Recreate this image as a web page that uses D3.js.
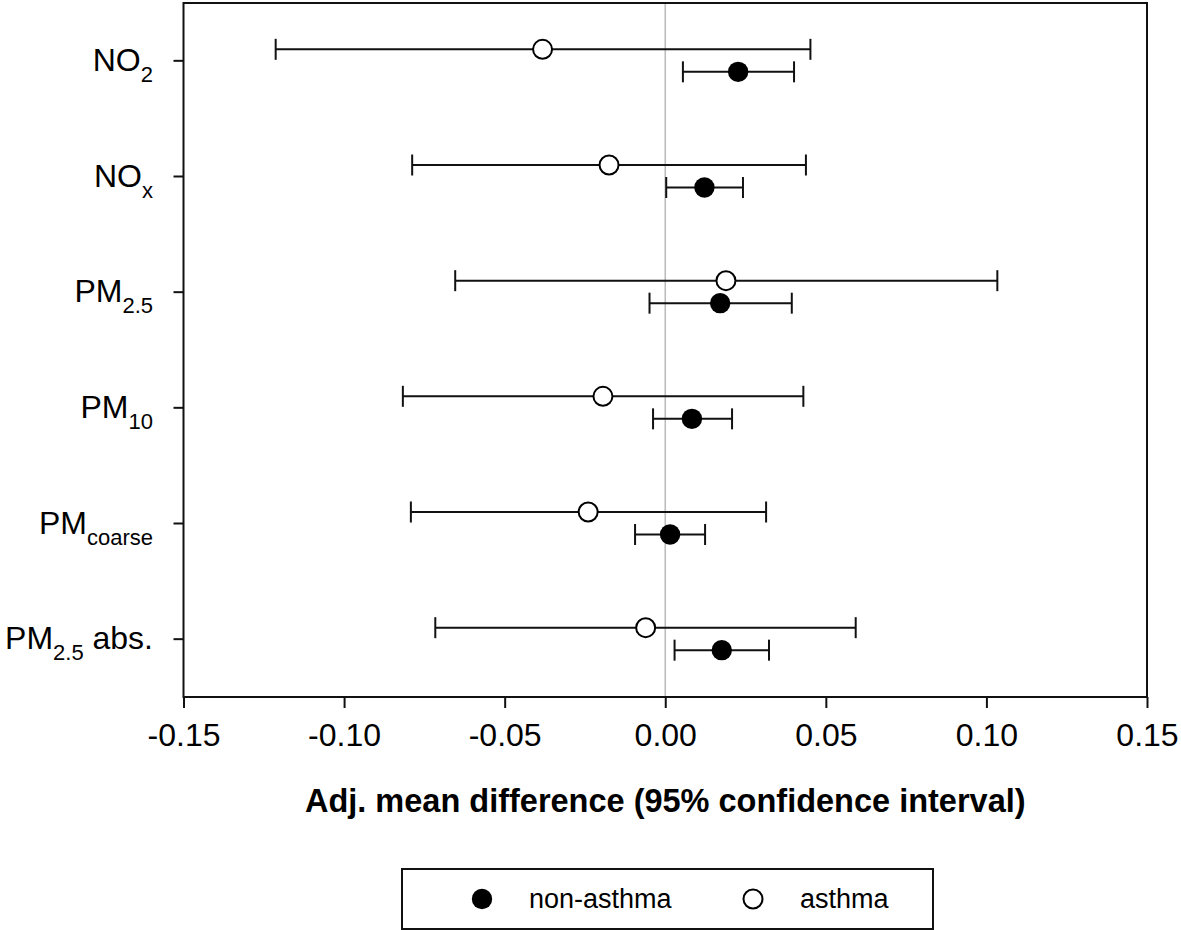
<!DOCTYPE html>
<html><head><meta charset="utf-8">
<script src="https://cdn.jsdelivr.net/npm/d3@7"></script>
<style>
body{margin:0;background:#fff}
svg{display:block}
text{font-family:"Liberation Sans",Arial,Helvetica,sans-serif;fill:#000}
</style>
</head><body>
<svg id="chart" width="1181" height="930"></svg>
<script>
// ---- data ----
const categories = ["NO2", "NOx", "PM2.5", "PM10", "PMcoarse", "PM2.5 abs."];
const labelMain = ["NO", "NO", "PM", "PM", "PM", "PM"];
const labelSub = ["2", "x", "2.5", "10", "coarse", "2.5"];
const labelSuffix = ["", "", "", "", "", " abs."];

const nonAsthmaEst = [0.0227, 0.0122, 0.0171, 0.0083, 0.0015, 0.0176];
const nonAsthmaLo  = [0.0055, 0.0003, -0.0049, -0.0038, -0.0094, 0.0029];
const nonAsthmaHi  = [0.0401, 0.0242, 0.0394, 0.0208, 0.0124, 0.0323];

const asthmaEst = [-0.0382, -0.0175, 0.0189, -0.0194, -0.0240, -0.0061];
const asthmaLo  = [-0.1213, -0.0788, -0.0654, -0.0817, -0.0792, -0.0716];
const asthmaHi  = [0.0452, 0.0438, 0.1034, 0.0430, 0.0314, 0.0593];

const xTicks = [-0.15, -0.10, -0.05, 0.00, 0.05, 0.10, 0.15];
const xDomain = [-0.15, 0.15];
const xTitle = "Adj. mean difference (95% confidence interval)";
const seriesNames = ["non-asthma", "asthma"];

(function () {
// ---- layout ----
const pL = 183.5, pR = 1147, pT = 3, pB = 697;
const svg = d3.select("#chart");

const x = d3.scaleLinear().domain(xDomain).range([pL, pR]);
const y = d3.scaleBand().domain(categories).range([pT, pB]);
const yc = c => y(c) + y.bandwidth() / 2;

// zero reference line
svg.append("line")
  .attr("x1", x(0)).attr("x2", x(0))
  .attr("y1", pT).attr("y2", pB)
  .attr("stroke", "#bdbdbd").attr("stroke-width", 1.6);

// frame
svg.append("rect")
  .attr("x", pL).attr("y", pT)
  .attr("width", pR - pL).attr("height", pB - pT)
  .attr("fill", "none").attr("stroke", "#111").attr("stroke-width", 2);

// x axis
const xAxis = svg.append("g")
  .attr("transform", `translate(0,${pB})`)
  .call(d3.axisBottom(x).tickValues(xTicks).tickSize(11).tickPadding(15)
        .tickFormat(d => d.toFixed(2)));
xAxis.select(".domain").remove();
xAxis.selectAll(".tick line").attr("stroke", "#111").attr("stroke-width", 2);
xAxis.selectAll(".tick text").attr("font-size", 32)
  .style("font-family", '"Liberation Sans",Arial,sans-serif').attr("fill", "#000");

// y axis ticks
const yAxis = svg.append("g")
  .attr("transform", `translate(${pL},0)`)
  .call(d3.axisLeft(y).tickSize(10).tickFormat(""));
yAxis.select(".domain").remove();
yAxis.selectAll(".tick line").attr("stroke", "#111").attr("stroke-width", 2);

// y labels with subscripts
categories.forEach((c, i) => {
  const t = svg.append("text")
    .attr("x", 153).attr("y", yc(c) + 10)
    .attr("text-anchor", "end");
  t.append("tspan").attr("font-size", 32).text(labelMain[i]);
  t.append("tspan").attr("font-size", 22).attr("dy", 11).text(labelSub[i]);
  if (labelSuffix[i]) {
    t.append("tspan").attr("font-size", 32).attr("dy", -11).text(labelSuffix[i]);
  }
});

// series
const series = [
  {name: seriesNames[1], est: asthmaEst, lo: asthmaLo, hi: asthmaHi, off: -11.5, fill: "#fff"},
  {name: seriesNames[0], est: nonAsthmaEst, lo: nonAsthmaLo, hi: nonAsthmaHi, off: 11, fill: "#000"}
];
const capH = 10.5;
series.forEach(s => {
  const g = svg.append("g");
  categories.forEach((c, i) => {
    const yy = yc(c) + s.off;
    g.append("line").attr("x1", x(s.lo[i])).attr("x2", x(s.hi[i]))
      .attr("y1", yy).attr("y2", yy).attr("stroke", "#111").attr("stroke-width", 2);
    [s.lo[i], s.hi[i]].forEach(v => {
      g.append("line").attr("x1", x(v)).attr("x2", x(v))
        .attr("y1", yy - capH).attr("y2", yy + capH)
        .attr("stroke", "#111").attr("stroke-width", 2);
    });
    g.append("circle").attr("cx", x(s.est[i])).attr("cy", yy)
      .attr("r", s.fill === "#fff" ? 9.5 : 10.2)
      .attr("fill", s.fill).attr("stroke", "#000").attr("stroke-width", s.fill === "#fff" ? 2 : 0);
  });
});

// x title
svg.append("text")
  .attr("x", (pL + pR) / 2).attr("y", 812)
  .attr("text-anchor", "middle")
  .attr("font-size", 32.5).attr("font-weight", "bold")
  .text(xTitle);

// legend
const lg = svg.append("g");
lg.append("rect").attr("x", 402).attr("y", 869).attr("width", 531).attr("height", 60)
  .attr("fill", "#fff").attr("stroke", "#111").attr("stroke-width", 2);
lg.append("circle").attr("cx", 482).attr("cy", 899).attr("r", 10.2).attr("fill", "#000");
lg.append("text").attr("x", 529).attr("y", 908).attr("font-size", 27).text(seriesNames[0]);
lg.append("circle").attr("cx", 753).attr("cy", 899).attr("r", 9.5)
  .attr("fill", "#fff").attr("stroke", "#000").attr("stroke-width", 2);
lg.append("text").attr("x", 800).attr("y", 908).attr("font-size", 27).text(seriesNames[1]);
})();
</script>
</body></html>
